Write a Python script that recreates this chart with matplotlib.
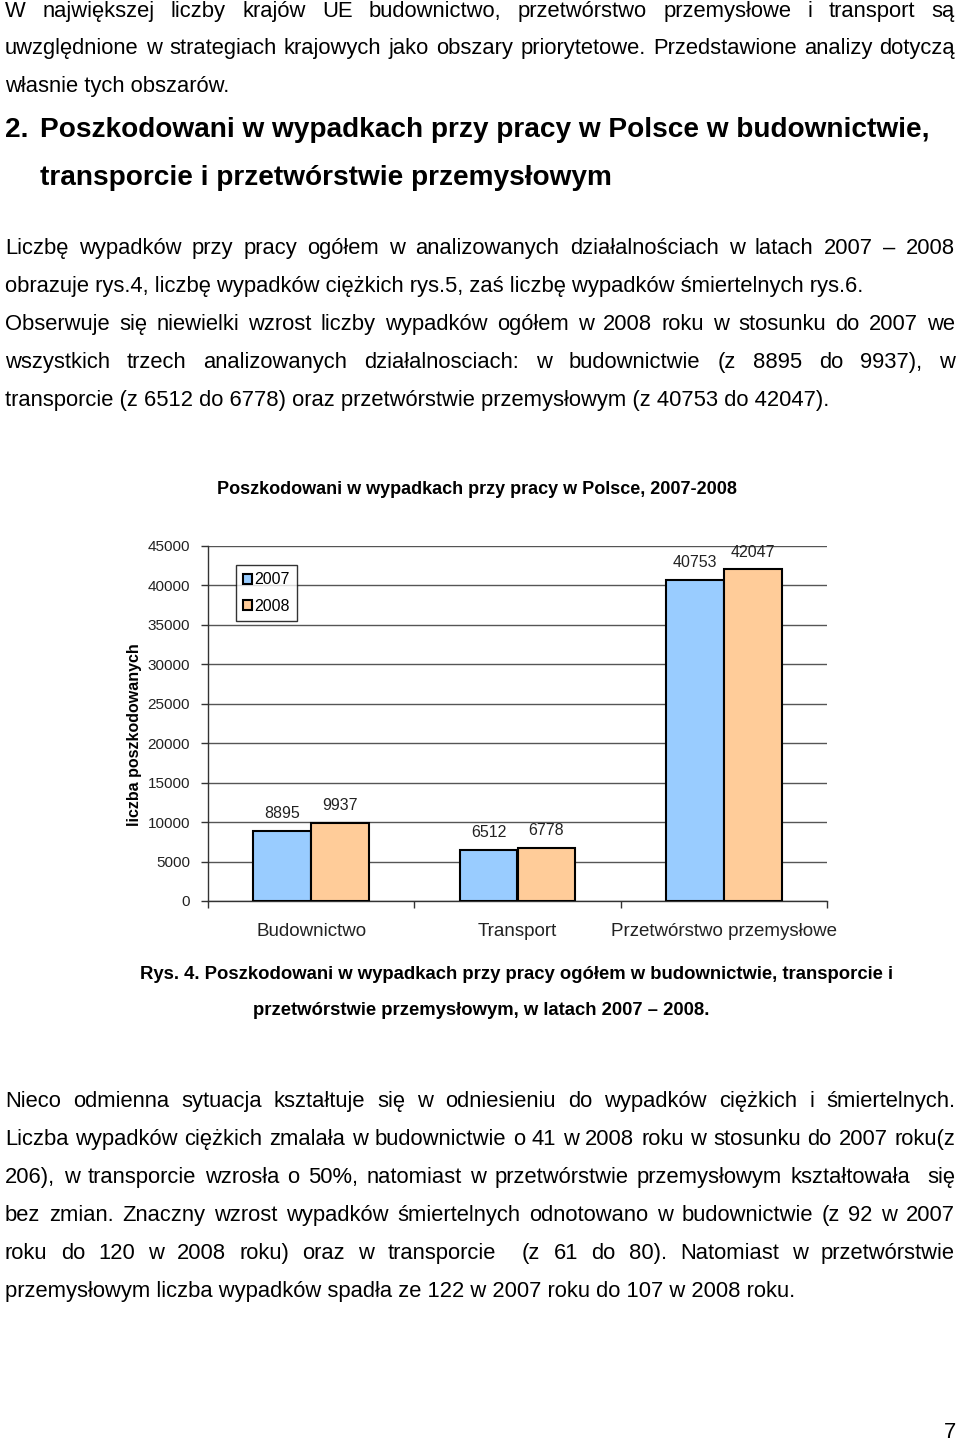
#
#   plot.py
#
#   Page 7 of the report: a few paragraphs of text and the bar chart
#   "Poszkodowani w wypadkach przy pracy w Polsce, 2007-2008".
#____________________________________________________________________________

import numpy as np
import matplotlib
matplotlib.use("Agg")
import matplotlib.pyplot as plt

# chart data

categories = ["Budownictwo", "Transport", "Przetwórstwo przemysłowe"]
years = ["2007", "2008"]
injured_2007 = [8895, 6512, 40753]
injured_2008 = [9937, 6778, 42047]
y_ticks = [0, 5000, 10000, 15000, 20000, 25000, 30000, 35000, 40000, 45000]

chart_title = "Poszkodowani w wypadkach przy pracy w Polsce, 2007-2008"
y_label = "liczba poszkodowanych"

# page text, one entry per printed line (text, justified?)

para_1 = [
    ("W największej liczby krajów UE budownictwo, przetwórstwo przemysłowe i transport są", True),
    ("uwzględnione w strategiach krajowych jako obszary priorytetowe. Przedstawione analizy dotyczą", True),
    ("własnie tych obszarów.", False),
]

heading_1 = "2."
heading_2 = "Poszkodowani w wypadkach przy pracy w Polsce w budownictwie,"
heading_3 = "transporcie i przetwórstwie przemysłowym"

para_2 = [
    ("Liczbę wypadków przy pracy ogółem w analizowanych działalnościach w latach 2007 – 2008", True),
    ("obrazuje rys.4, liczbę wypadków ciężkich rys.5, zaś liczbę wypadków śmiertelnych rys.6.", False),
    ("Obserwuje się niewielki wzrost liczby wypadków ogółem w 2008 roku w stosunku do 2007 we", True),
    ("wszystkich trzech analizowanych działalnosciach: w budownictwie (z 8895 do 9937), w", True),
    ("transporcie (z 6512 do 6778) oraz przetwórstwie przemysłowym (z 40753 do 42047).", False),
]

caption = [
    "Rys. 4. Poszkodowani w wypadkach przy pracy ogółem w budownictwie, transporcie i",
    "przetwórstwie przemysłowym, w latach 2007 – 2008.",
]

para_3 = [
    ("Nieco odmienna sytuacja kształtuje się w odniesieniu do wypadków ciężkich i śmiertelnych.", True),
    ("Liczba wypadków ciężkich zmalała w budownictwie o 41 w 2008 roku w stosunku do 2007 roku(z", True),
    ("206), w transporcie wzrosła o 50%, natomiast w przetwórstwie przemysłowym kształtowała  się", True),
    ("bez zmian. Znaczny wzrost wypadków śmiertelnych odnotowano w budownictwie (z 92 w 2007", True),
    ("roku do 120 w 2008 roku) oraz w transporcie  (z 61 do 80). Natomiast w przetwórstwie", True),
    ("przemysłowym liczba wypadków spadła ze 122 w 2007 roku do 107 w 2008 roku.", False),
]

page_number = "7"

W, H = 960, 1442

plt.rcParams["font.family"] = ["Liberation Sans", "DejaVu Sans"]

fig = plt.figure(figsize=(W / 100, H / 100), dpi=100)
renderer = fig.canvas.get_renderer()


def fx(x):
    return x / W


def fy(y):
    return 1 - y / H


def put_line(text, y, justify, x0=5, x1=955, **kw):

    # one printed line on a common baseline; justified lines get the
    # spare room spread over the gaps between words

    base = y + 7
    if not justify:
        fig.text(fx(x0), fy(base), text, va="baseline", ha="left", **kw)
        return

    words = text.split(" ")
    objs = [fig.text(0, 0, w, va="baseline", ha="left", **kw) for w in words]
    widths = [o.get_window_extent(renderer).width if w else 0.0
              for o, w in zip(objs, words)]
    gap = (x1 - x0 - sum(widths)) / (len(words) - 1)
    x = x0
    for o, w in zip(objs, widths):
        o.set_position((fx(x), fy(base)))
        x += w + gap


body = dict(fontsize=15.8, color="black")

for (line, just), y in zip(para_1, [10, 47, 85]):
    put_line(line, y, just, **body)

head = dict(va="baseline", fontsize=20.2, fontweight="bold")
fig.text(fx(5), fy(137), heading_1, **head)
fig.text(fx(40), fy(137), heading_2, **head)
fig.text(fx(40), fy(185), heading_3, **head)

for (line, just), y in zip(para_2, [247, 285, 323, 361, 399]):
    put_line(line, y, just, **body)

fig.text(fx(140), fy(979), caption[0], va="baseline", ha="left",
         fontsize=13.3, fontweight="bold")
fig.text(fx(481), fy(1015), caption[1], va="baseline", ha="center",
         fontsize=13.3, fontweight="bold")

for (line, just), y in zip(para_3, [1100, 1138, 1176, 1214, 1252, 1290]):
    put_line(line, y, just, **body)

fig.text(fx(950), fy(1433), page_number, va="center", ha="center", fontsize=15.8)

# the chart itself

ax = fig.add_axes([fx(208), fy(901), (827 - 208) / W, (901 - 546) / H])

x = np.arange(len(categories))
bw = 0.28

b1 = ax.bar(x - bw / 2, injured_2007, bw, color="#99ccff",
            edgecolor="black", linewidth=1.5, label=years[0], zorder=3)
b2 = ax.bar(x + bw / 2, injured_2008, bw, color="#ffcc99",
            edgecolor="black", linewidth=1.5, label=years[1], zorder=3)

for bars, vals in [(b1, injured_2007), (b2, injured_2008)]:
    for r, v in zip(bars, vals):
        ax.annotate(str(v), (r.get_x() + r.get_width() / 2, v),
                    xytext=(0, 7), textcoords="offset points",
                    ha="center", va="bottom", fontsize=11.5, color="#222222")

ax.set_xlim(-0.5, len(categories) - 0.5)
ax.set_ylim(0, 45000)
ax.set_yticks(y_ticks)
ax.set_yticklabels([str(t) for t in y_ticks], fontsize=11, color="#222222")
ax.yaxis.grid(True, color="#555555", linewidth=1.0, zorder=0)
ax.set_axisbelow(True)

ax.set_xticks(x)
ax.set_xticklabels(categories, fontsize=13.5, color="#222222")
ax.set_xticks(np.arange(-0.5, len(categories)), minor=True)
ax.tick_params(axis="x", which="major", length=0, pad=16)
ax.tick_params(axis="x", which="minor", length=5, width=1.0, color="#333333")
ax.tick_params(axis="y", length=5, width=1.0, color="#333333", pad=8)

for side in ["top", "right"]:
    ax.spines[side].set_visible(False)
for side in ["left", "bottom"]:
    ax.spines[side].set_color("#333333")
    ax.spines[side].set_linewidth(1.0)

ax.set_ylabel(y_label, fontsize=11.5, fontweight="bold")
ax.yaxis.set_label_coords(-0.107, 0.47)

leg = ax.legend(loc="upper left", bbox_to_anchor=(0.045, 0.946), fontsize=11.5,
                frameon=True, fancybox=False, edgecolor="black",
                handlelength=0.55, handleheight=0.55, handletextpad=0.15,
                borderpad=0.45, labelspacing=0.7, borderaxespad=0)
leg.get_frame().set_linewidth(1.0)

fig.text(fx(477), fy(489), chart_title, va="center", ha="center",
         fontsize=13, fontweight="bold")

fig.savefig("out.png", dpi=100)
